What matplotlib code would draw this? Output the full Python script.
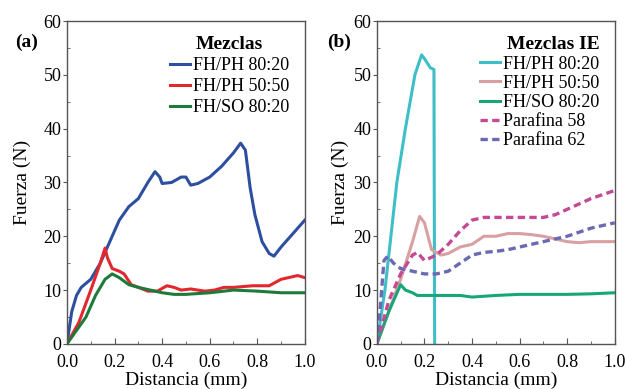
import matplotlib
matplotlib.use("Agg")
import matplotlib.pyplot as plt
from matplotlib.ticker import MultipleLocator

plt.rcParams["font.family"] = "Liberation Serif"

# ---- panel (a): Mezclas ----
a_x1 = [0, 0.02, 0.04, 0.06, 0.1, 0.14, 0.18, 0.22, 0.26, 0.3, 0.34, 0.37, 0.39, 0.4,
        0.44, 0.48, 0.5, 0.52, 0.55, 0.6, 0.65, 0.7, 0.73, 0.75, 0.77, 0.79, 0.82, 0.85,
        0.87, 0.9, 0.95, 1.0]
a_y1 = [0, 6, 9, 10.5, 12, 15, 19, 23, 25.5, 27, 30, 32, 31, 29.8,
        30, 31, 31, 29.5, 29.8, 31, 33, 35.5, 37.3, 36, 29, 24, 19, 16.8,
        16.3, 18, 20.5, 23]
a_x2 = [0, 0.05, 0.1, 0.14, 0.16, 0.17, 0.19, 0.22, 0.24, 0.27, 0.3, 0.34, 0.38, 0.42,
        0.45, 0.48, 0.52, 0.55, 0.58, 0.62, 0.66, 0.7, 0.78, 0.85, 0.9, 0.97, 1.0]
a_y2 = [0, 4, 10, 15, 17.8, 16, 14, 13.5, 13, 11, 10.5, 9.8, 9.8, 10.8,
        10.5, 10, 10.2, 10, 9.8, 10, 10.5, 10.5, 10.8, 10.8, 12, 12.7, 12.3]
a_x3 = [0, 0.04, 0.08, 0.12, 0.16, 0.19, 0.22, 0.26, 0.3, 0.35, 0.4, 0.45, 0.5, 0.6,
        0.7, 0.8, 0.9, 1.0]
a_y3 = [0, 2.5, 5, 9, 12, 13, 12.3, 11, 10.5, 10, 9.5, 9.2, 9.2, 9.5,
        10, 9.8, 9.5, 9.5]

# ---- panel (b): Mezclas IE ----
b_x1 = [0, 0.034, 0.084, 0.12, 0.16, 0.188, 0.2, 0.225, 0.24, 0.243]
b_y1 = [0, 10, 30, 40, 50, 53.7, 53, 51.3, 51, 0]
b_x2 = [0, 0.05, 0.1, 0.15, 0.18, 0.2, 0.23, 0.27, 0.3, 0.35, 0.4, 0.45, 0.5, 0.55,
        0.6, 0.65, 0.7, 0.75, 0.8, 0.85, 0.9, 1.0]
b_y2 = [0, 6, 12, 19, 23.7, 22.5, 17.5, 16.5, 16.8, 18, 18.5, 20, 20, 20.5,
        20.5, 20.3, 20, 19.5, 19, 18.8, 19, 19]
b_x3 = [0, 0.05, 0.1, 0.12, 0.15, 0.17, 0.2, 0.3, 0.35, 0.4, 0.5, 0.6, 0.7, 0.8, 0.9, 1.0]
b_y3 = [0, 6, 11, 10, 9.5, 9, 9, 9, 9, 8.7, 9, 9.2, 9.2, 9.2, 9.3, 9.5]
b_x4 = [0, 0.05, 0.1, 0.15, 0.17, 0.2, 0.25, 0.3, 0.35, 0.4, 0.45, 0.55, 0.65, 0.7,
        0.75, 0.8, 0.9, 1.0]
b_y4 = [0, 8, 13, 16.5, 17, 15.5, 16.5, 18.5, 21, 23, 23.5, 23.5, 23.5, 23.5,
        24, 25, 27, 28.5]
b_x5 = [0, 0.013, 0.03, 0.046, 0.07, 0.1, 0.15, 0.2, 0.25, 0.3, 0.35, 0.4, 0.45, 0.5,
        0.55, 0.6, 0.7, 0.8, 0.9, 1.0]
b_y5 = [0, 6, 15.5, 16.3, 15, 14, 13.5, 13, 13, 13.5, 15, 16.5, 17, 17.2,
        17.5, 18, 19, 20, 21.5, 22.5]

fig = plt.figure(figsize=(6.26, 3.89), dpi=100)
ax1 = fig.add_axes([0.107, 0.116, 0.380, 0.830])
ax2 = fig.add_axes([0.602, 0.116, 0.380, 0.830])

ax1.plot(a_x1, a_y1, color="#2e4fa0", lw=2.2, label="FH/PH 80:20")
ax1.plot(a_x2, a_y2, color="#e2282e", lw=2.2, label="FH/PH 50:50")
ax1.plot(a_x3, a_y3, color="#1d7a3b", lw=2.2, label="FH/SO 80:20")

ax2.plot(b_x1, b_y1, color="#3ebec6", lw=2.2, label="FH/PH 80:20")
ax2.plot(b_x2, b_y2, color="#d9a0a3", lw=2.2, label="FH/PH 50:50")
ax2.plot(b_x3, b_y3, color="#18a679", lw=2.2, label="FH/SO 80:20")
ax2.plot(b_x4, b_y4, color="#c44b93", lw=2.4, ls=(0, (2.2, 1.3)), label="Parafina 58")
ax2.plot(b_x5, b_y5, color="#6b69b3", lw=2.4, ls=(0, (2.2, 1.3)), label="Parafina 62")

# axes, title, title alignment, label spacing, ylabel pad
panels = [(ax1, "Mezclas", "center", 0.22, 9), (ax2, "Mezclas IE", "right", 0.12, 3)]
for ax, title, align, lsp, ypad in panels:
    ax.set_xlim(0, 1.0)
    ax.set_ylim(0, 60)
    ax.set_xticks([0, 0.2, 0.4, 0.6, 0.8, 1.0])
    ax.set_xticklabels(["0.0", "0.2", "0.4", "0.6", "0.8", "1.0"])
    ax.xaxis.set_minor_locator(MultipleLocator(0.1))
    ax.yaxis.set_major_locator(MultipleLocator(10))
    ax.yaxis.set_minor_locator(MultipleLocator(5))
    ax.tick_params(which="both", labelsize=13, color="#555555")
    ax.tick_params(axis="x", which="both", direction="in", pad=7)
    ax.tick_params(axis="x", which="major", length=4)
    ax.tick_params(axis="x", which="minor", length=2.5)
    ax.tick_params(axis="y", which="major", direction="out", length=3, pad=1)
    ax.tick_params(axis="y", which="minor", direction="in", length=2)
    for s in ax.spines.values():
        s.set_color("#555555")
        s.set_linewidth(1.0)
    ax.set_xlabel("Distancia (mm)", fontsize=14, labelpad=1)
    ax.set_ylabel("Fuerza (N)", fontsize=14, labelpad=ypad)
    ax.legend(loc="upper right", frameon=False, fontsize=13, title=title,
              handlelength=1.1, handletextpad=0.2, labelspacing=lsp,
              borderaxespad=0.45, borderpad=0.4, alignment=align,
              title_fontproperties={"weight": "bold", "size": 14})

fig.text(0.024, 0.89, "(a)", fontsize=14, fontweight="bold", va="center")
fig.text(0.522, 0.89, "(b)", fontsize=14, fontweight="bold", va="center")

fig.savefig("out.png", dpi=100)
